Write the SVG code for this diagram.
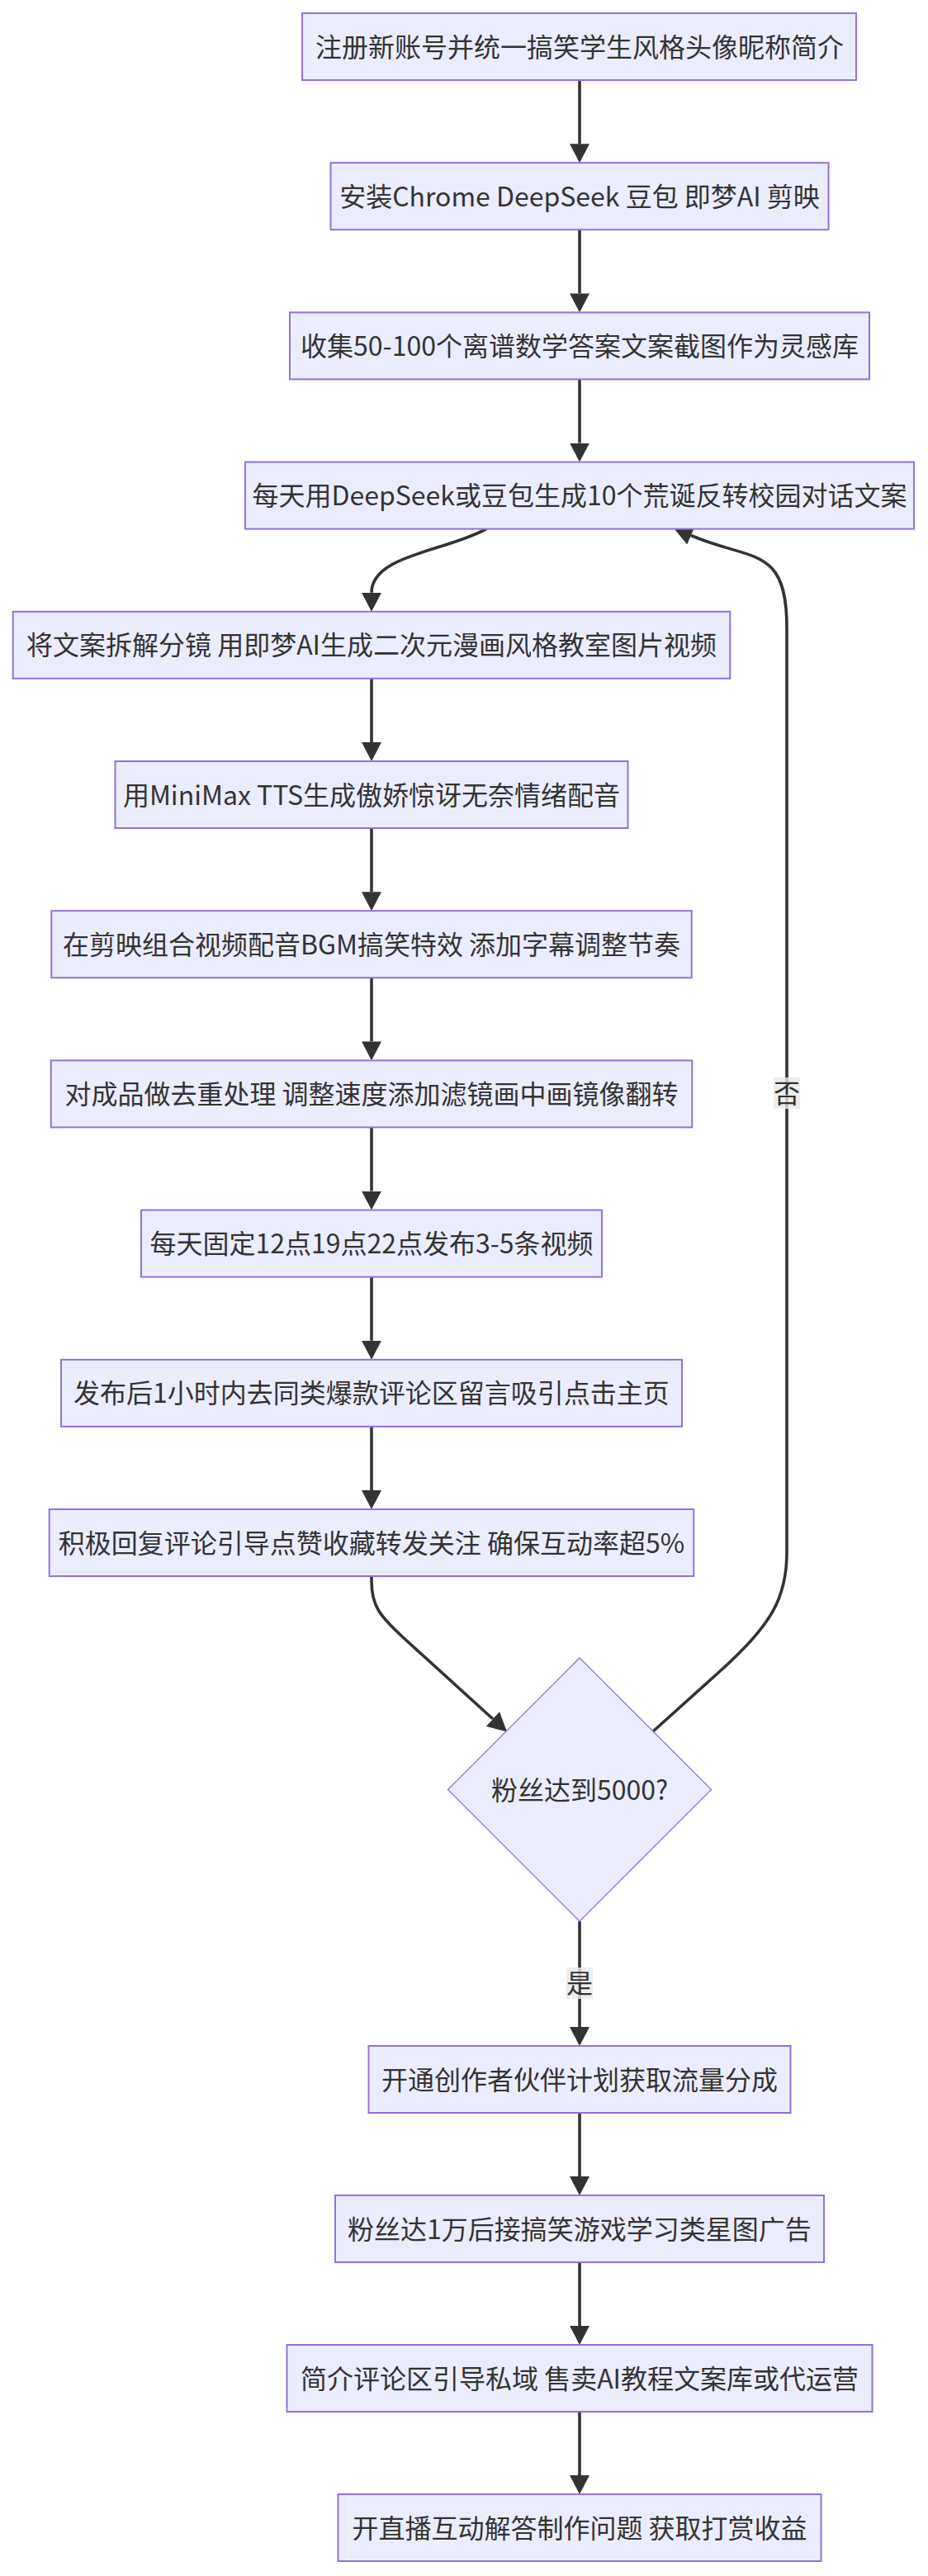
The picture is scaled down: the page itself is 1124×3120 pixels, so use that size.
<svg xmlns="http://www.w3.org/2000/svg" width="1124" height="3120" viewBox="0 0 1124 3120">
<style>
.node rect,.node polygon{fill:#ECECFF;stroke:#9370DB;}
.node rect{stroke-width:2;}
.node polygon{stroke-width:1.3;}
.node text,.elabel text{font-family:"Noto Sans CJK SC","Noto Sans",sans-serif;font-size:32px;fill:#333333;text-anchor:middle;}
.edge{fill:none;stroke:#333333;stroke-width:3.6;marker-end:url(#arr);}
.lbg{fill:#e8e8e8;fill-opacity:0.8;}
</style>
<defs>
<marker id="arr" viewBox="0 0 23 24" refX="0" refY="12" markerWidth="23" markerHeight="24" markerUnits="userSpaceOnUse" orient="auto">
<path d="M0,0 L23,12 L0,24 z" fill="#333333"/>
</marker>
</defs>
<rect width="1124" height="3120" fill="#ffffff"/>
<g id="connectors">
<path class="edge" d="M702,97 L702,174.2"/>
<path class="edge" d="M702,278.2 L702,355.4"/>
<path class="edge" d="M702,459.4 L702,536.6"/>
<path class="edge" d="M589,640.6 C540,668 450,672 450,717.8"/>
<path class="edge" d="M450,821.8 L450,899"/>
<path class="edge" d="M450,1003 L450,1080.2"/>
<path class="edge" d="M450,1184.2 L450,1261.4"/>
<path class="edge" d="M450,1365.4 L450,1442.6"/>
<path class="edge" d="M450,1546.6 L450,1623.8"/>
<path class="edge" d="M450,1727.8 L450,1805"/>
<path class="edge" d="M450,1909 L450,1915 C450,1945 460,1957 488,1983 L597,2082"/>
<path class="edge" d="M791,2097 L870,2026 C935,1968 953,1935 953,1880 L953,760 C953,660 910,680 837,648.5"/>
<path class="edge" d="M702,2327 L702,2455"/>
<path class="edge" d="M702,2559 L702,2636"/>
<path class="edge" d="M702,2740 L702,2817"/>
<path class="edge" d="M702,2921 L702,2998"/>
<g class="elabel" id="label-no">
<rect class="lbg" x="937" y="1305" width="32" height="38"/>
<text x="953" y="1336">否</text>
</g>
<g class="elabel" id="label-yes">
<rect class="lbg" x="686" y="2383" width="32" height="38"/>
<text x="702" y="2414">是</text>
</g>
</g>
<g class="node" id="n1"><rect x="366" y="16" width="671" height="81"/><text x="702" y="68.5">注册新账号并统一搞笑学生风格头像昵称简介</text></g>
<g class="node" id="n2"><rect x="400.5" y="197.2" width="603" height="81"/><text x="702" y="249.7">安装Chrome DeepSeek 豆包 即梦AI 剪映</text></g>
<g class="node" id="n3"><rect x="351" y="378.4" width="702" height="81"/><text x="702" y="430.9">收集50-100个离谱数学答案文案截图作为灵感库</text></g>
<g class="node" id="n4"><rect x="297" y="559.6" width="810" height="81"/><text x="702" y="612.1">每天用DeepSeek或豆包生成10个荒诞反转校园对话文案</text></g>
<g class="node" id="n5"><rect x="15.7" y="740.8" width="868.6" height="81"/><text x="450" y="793.3">将文案拆解分镜 用即梦AI生成二次元漫画风格教室图片视频</text></g>
<g class="node" id="n6"><rect x="139.5" y="922" width="621" height="81"/><text x="450" y="974.5">用MiniMax TTS生成傲娇惊讶无奈情绪配音</text></g>
<g class="node" id="n7"><rect x="62.3" y="1103.2" width="775.4" height="81"/><text x="450" y="1155.7">在剪映组合视频配音BGM搞笑特效 添加字幕调整节奏</text></g>
<g class="node" id="n8"><rect x="61.7" y="1284.4" width="776.6" height="81"/><text x="450" y="1336.9">对成品做去重处理 调整速度添加滤镜画中画镜像翻转</text></g>
<g class="node" id="n9"><rect x="171" y="1465.6" width="558" height="81"/><text x="450" y="1518.1">每天固定12点19点22点发布3-5条视频</text></g>
<g class="node" id="n10"><rect x="74" y="1646.8" width="752" height="81"/><text x="450" y="1699.3">发布后1小时内去同类爆款评论区留言吸引点击主页</text></g>
<g class="node" id="n11"><rect x="59.7" y="1828" width="780.6" height="81"/><text x="450" y="1880.5">积极回复评论引导点赞收藏转发关注 确保互动率超5%</text></g>
<g class="node" id="dec"><polygon points="702,2008 861.5,2167.5 702,2327 542.5,2167.5"/><text x="702" y="2179.5">粉丝达到5000?</text></g>
<g class="node" id="n12"><rect x="446.5" y="2478" width="511" height="81"/><text x="702" y="2530.5">开通创作者伙伴计划获取流量分成</text></g>
<g class="node" id="n13"><rect x="406" y="2659" width="592" height="81"/><text x="702" y="2711.5">粉丝达1万后接搞笑游戏学习类星图广告</text></g>
<g class="node" id="n14"><rect x="347.5" y="2840" width="709" height="81"/><text x="702" y="2892.5">简介评论区引导私域 售卖AI教程文案库或代运营</text></g>
<g class="node" id="n15"><rect x="409.5" y="3021" width="585" height="81"/><text x="702" y="3073.5">开直播互动解答制作问题 获取打赏收益</text></g>
</svg>
